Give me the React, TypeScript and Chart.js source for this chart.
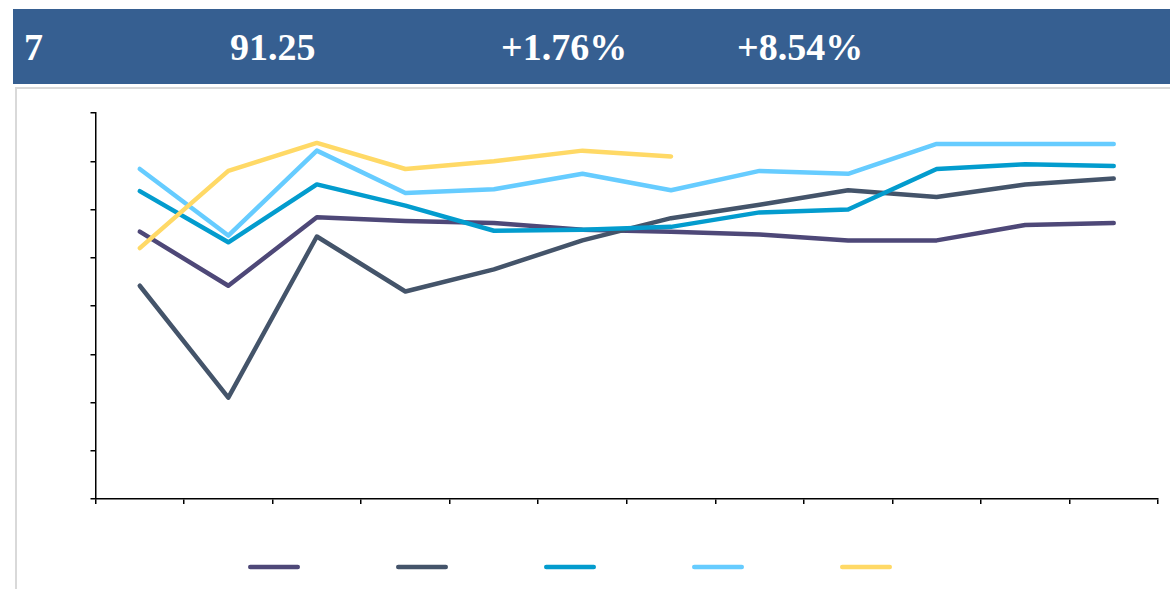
import React, { useEffect, useRef } from "react";
import { Chart, registerables } from "chart.js";

Chart.register(...registerables);

// ---- data ----
const categories = ["1", "2", "3", "4", "5", "6", "7", "8", "9", "10", "11", "12"];
const seriesNames = ["Series 1", "Series 2", "Series 3", "Series 4", "Series 5"];
const seriesColors = ["#4E4878", "#44546A", "#039CCE", "#66CCFF", "#FFD966"];

const series1 = [87.7, 82.1, 89.2, 88.8, 88.6, 87.9, 87.7, 87.4, 86.8, 86.8, 88.4, 88.6];
const series2 = [82.1, 70.5, 87.2, 81.5, 83.8, 86.8, 89.1, 90.5, 92.0, 91.3, 92.6, 93.2];
const series3 = [91.9, 86.6, 92.6, 90.4, 87.8, 87.9, 88.2, 89.7, 90.0, 94.2, 94.7, 94.5];
const series4 = [94.2, 87.3, 96.1, 91.7, 92.1, 93.7, 92.0, 94.0, 93.7, 96.8, 96.8, 96.8];
const series5 = [86.0, 94.0, 96.9, 94.2, 95.0, 96.1, 95.5, null, null, null, null, null];

const headerTexts = ["7", "91.25", "+1.76%", "+8.54%"];
const headerLefts = [24, 230, 501, 737];

const yMin = 60;
const yMax = 100;
const yStep = 5;

const allSeries = [series1, series2, series3, series4, series5];

// Legend of line swatches (no text in the reference)
const lineLegend = {
  id: "lineLegend",
  afterDraw(chart: any, _args: any, opts: any) {
    const { ctx, chartArea } = chart;
    const lw = opts.lineWidth;
    ctx.save();
    ctx.lineCap = "round";
    ctx.lineWidth = lw;
    chart.data.datasets.forEach((ds: any, i: number) => {
      const x0 = chartArea.left + opts.startOffset + i * opts.spacing;
      const y = chartArea.bottom + opts.offsetY;
      ctx.strokeStyle = ds.borderColor;
      ctx.beginPath();
      ctx.moveTo(x0 + lw / 2, y);
      ctx.lineTo(x0 + opts.length - lw / 2, y);
      ctx.stroke();
    });
    ctx.restore();
  },
};

function LineChart() {
  const ref = useRef<HTMLCanvasElement | null>(null);
  useEffect(() => {
    if (!ref.current) return;
    const chart = new Chart(ref.current, {
      type: "line",
      data: {
        labels: categories,
        datasets: allSeries.map((d, i) => ({
          label: seriesNames[i],
          data: d,
          borderColor: seriesColors[i],
          backgroundColor: seriesColors[i],
          borderWidth: 4.5,
          borderCapStyle: "round",
          borderJoinStyle: "round",
          pointRadius: 0,
          pointHoverRadius: 0,
          tension: 0,
          fill: false,
          spanGaps: false,
          order: allSeries.length - i,
        })),
      },
      options: {
        responsive: false,
        animation: false,
        devicePixelRatio: 1,
        layout: { padding: { left: 74.5, right: 12, top: 25, bottom: 85 } },
        plugins: {
          legend: { display: false },
          tooltip: { enabled: false },
          lineLegend: { startOffset: 152.5, spacing: 148, length: 52, offsetY: 68, lineWidth: 4.5 },
        } as any,
        scales: {
          x: {
            type: "category",
            offset: true,
            border: { display: true, color: "#000000", width: 1.5 },
            grid: {
              display: true,
              offset: true,
              drawOnChartArea: false,
              drawTicks: true,
              tickLength: 5,
              color: "#000000",
              lineWidth: 1.5,
            },
            ticks: { display: false },
            afterFit: (s: any) => {
              s.height = 5;
            },
          },
          y: {
            min: yMin,
            max: yMax,
            border: { display: true, color: "#000000", width: 1.5 },
            grid: {
              display: true,
              drawOnChartArea: false,
              drawTicks: true,
              tickLength: 5,
              color: "#000000",
              lineWidth: 1.5,
            },
            ticks: { display: false, stepSize: yStep },
            afterFit: (s: any) => {
              s.width = 5;
            },
          },
        },
      },
      plugins: [lineLegend],
    } as any);
    return () => chart.destroy();
  }, []);
  return (
    <canvas
      ref={ref}
      width={1154}
      height={501}
      style={{ position: "absolute", left: 16, top: 88, width: 1154, height: 501 }}
    />
  );
}

export default function App() {
  return (
    <div style={{ position: "absolute", left: 0, top: 0, width: 1170, height: 589, overflow: "hidden", background: "#ffffff" }}>
      <div
        style={{
          position: "absolute",
          left: 13,
          top: 9,
          width: 1157,
          height: 75,
          background: "#365F91",
        }}
      >
        {headerTexts.map((t, i) => (
          <span
            key={i}
            style={{
              position: "absolute",
              left: headerLefts[i] - 13,
              top: 19,
              fontFamily: "'Liberation Serif', 'Times New Roman', serif",
              fontWeight: "bold",
              fontSize: 38,
              lineHeight: "38px",
              color: "#ffffff",
              whiteSpace: "nowrap",
            }}
          >
            {t}
          </span>
        ))}
      </div>
      <div
        style={{
          position: "absolute",
          left: 15,
          top: 87,
          width: 1170,
          height: 520,
          border: "2px solid #D9D9D9",
          boxSizing: "border-box",
        }}
      />
      <LineChart />
    </div>
  );
}
